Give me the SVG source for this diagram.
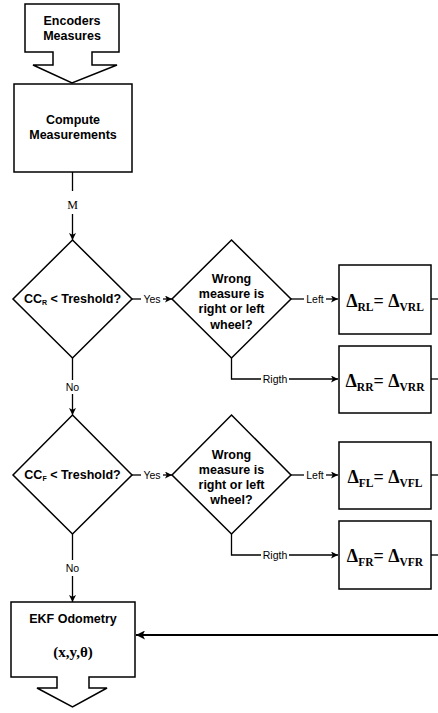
<svg xmlns="http://www.w3.org/2000/svg" width="438" height="713" viewBox="0 0 438 713">
  <style>
    .shape { fill: #fff; stroke: #000; stroke-width: 1.5; stroke-linejoin: miter; }
    .conn { fill: none; stroke: #000; stroke-width: 1.3; }
    .thick { fill: none; stroke: #000; stroke-width: 2; }
    .lbl { font-family: "Liberation Sans", Arial, sans-serif; font-weight: bold; font-size: 12.5px; text-anchor: middle; fill: #000; }
    .edge { font-family: "Liberation Sans", Arial, sans-serif; font-size: 10.5px; text-anchor: middle; fill: #000; }
    .math { font-family: "Liberation Serif", "Times New Roman", serif; font-weight: bold; font-size: 18px; text-anchor: middle; fill: #000; }
    .sub { font-size: 11.5px; }
  </style>
  <defs>
    <marker id="arrow" viewBox="0 0 10 10" refX="10" refY="5" markerWidth="7" markerHeight="7" markerUnits="userSpaceOnUse" orient="auto">
      <path d="M0,0 L10,5 L0,10 L2.5,5 Z" fill="#000"/>
    </marker>
    <marker id="arrowBig" viewBox="0 0 10 10" refX="10" refY="5" markerWidth="9" markerHeight="9" markerUnits="userSpaceOnUse" orient="auto">
      <path d="M0,0 L10,5 L0,10 L2.5,5 Z" fill="#000"/>
    </marker>
  </defs>

  <!-- input block arrow -->
  <g id="encoders">
    <path class="shape" d="M25,4 H119 V52 H92 V65 H117 L72,83 L33,65 H53 V52 H25 Z"/>
    <text class="lbl" x="72" y="25">Encoders</text>
    <text class="lbl" x="72" y="40">Measures</text>
  </g>

  <g id="compute">
    <rect class="shape" x="14" y="84" width="118" height="88"/>
    <text class="lbl" x="73" y="124">Compute</text>
    <text class="lbl" x="73" y="139">Measurements</text>
  </g>

  <g id="checkR">
    <path class="shape" d="M72.5,240 L132,299 L72.5,358 L13,299 Z"/>
    <text class="lbl" x="72.5" y="303">CC<tspan font-size="7" dy="2">R</tspan><tspan dy="-2"> &lt; Treshold?</tspan></text>
  </g>

  <g id="wheelR">
    <path class="shape" d="M231.5,240 L291,299 L231.5,358 L172,299 Z"/>
    <text class="lbl" x="231.5" y="283">Wrong</text>
    <text class="lbl" x="231.5" y="298">measure is</text>
    <text class="lbl" x="231.5" y="313">right or left</text>
    <text class="lbl" x="231.5" y="329">wheel?</text>
  </g>

  <g id="deltaRL">
    <rect class="shape" x="339" y="265" width="92" height="69"/>
    <text class="math" x="385" y="307">Δ<tspan class="sub" dy="4">RL</tspan><tspan dy="-4">= Δ</tspan><tspan class="sub" dy="4">VRL</tspan></text>
  </g>

  <g id="deltaRR">
    <rect class="shape" x="339" y="346" width="92" height="67"/>
    <text class="math" x="385" y="387">Δ<tspan class="sub" dy="4">RR</tspan><tspan dy="-4">= Δ</tspan><tspan class="sub" dy="4">VRR</tspan></text>
  </g>

  <g id="checkF">
    <path class="shape" d="M72.5,415 L132,475 L72.5,534 L13,475 Z"/>
    <text class="lbl" x="72.5" y="479">CC<tspan font-size="7" dy="2">F</tspan><tspan dy="-2"> &lt; Treshold?</tspan></text>
  </g>

  <g id="wheelF">
    <path class="shape" d="M231.5,415 L291,475 L231.5,534 L172,475 Z"/>
    <text class="lbl" x="231.5" y="459">Wrong</text>
    <text class="lbl" x="231.5" y="474">measure is</text>
    <text class="lbl" x="231.5" y="489">right or left</text>
    <text class="lbl" x="231.5" y="504">wheel?</text>
  </g>

  <g id="deltaFL">
    <rect class="shape" x="339" y="442" width="92" height="67"/>
    <text class="math" x="385" y="483">Δ<tspan class="sub" dy="4">FL</tspan><tspan dy="-4">= Δ</tspan><tspan class="sub" dy="4">VFL</tspan></text>
  </g>

  <g id="deltaFR">
    <rect class="shape" x="339" y="521" width="92" height="68"/>
    <text class="math" x="385" y="562">Δ<tspan class="sub" dy="4">FR</tspan><tspan dy="-4">= Δ</tspan><tspan class="sub" dy="4">VFR</tspan></text>
  </g>

  <g id="ekf">
    <path class="shape" d="M11,602 H135 V677 H89 V688 H107 L72.5,707 L37,688 H57 V677 H11 Z"/>
    <text class="lbl" x="73" y="623">EKF Odometry</text>
    <text x="73" y="657" font-family="'Liberation Serif', 'Times New Roman', serif" font-weight="bold" font-size="15" text-anchor="middle">(x,y,θ)</text>
  </g>

  <g id="connectors">
    <!-- M link -->
    <line class="conn" x1="72.5" y1="172" x2="72.5" y2="191"/>
    <text x="72.5" y="209" font-family="'Liberation Serif', 'Times New Roman', serif" font-size="12" text-anchor="middle">M</text>
    <line class="conn" x1="72.5" y1="214" x2="72.5" y2="240" marker-end="url(#arrow)"/>

    <!-- Yes (R) -->
    <line class="conn" x1="132" y1="299" x2="141" y2="299"/>
    <text class="edge" x="152" y="302.5">Yes</text>
    <line class="conn" x1="163" y1="299" x2="172" y2="299" marker-end="url(#arrow)"/>

    <!-- Left (R) -->
    <line class="conn" x1="291" y1="299" x2="304" y2="299"/>
    <text class="edge" x="315" y="302.5">Left</text>
    <line class="conn" x1="326" y1="299" x2="338" y2="299" marker-end="url(#arrow)"/>

    <!-- Rigth (R) -->
    <polyline class="conn" points="231.5,358 231.5,379 261,379"/>
    <text class="edge" x="275" y="382.5">Rigth</text>
    <line class="conn" x1="289" y1="379" x2="338" y2="379" marker-end="url(#arrow)"/>

    <!-- No (R) -->
    <line class="conn" x1="72.5" y1="358" x2="72.5" y2="380"/>
    <text class="edge" x="72.5" y="391">No</text>
    <line class="conn" x1="72.5" y1="394" x2="72.5" y2="415" marker-end="url(#arrow)"/>

    <!-- Yes (F) -->
    <line class="conn" x1="132" y1="475" x2="141" y2="475"/>
    <text class="edge" x="152" y="478.5">Yes</text>
    <line class="conn" x1="163" y1="475" x2="172" y2="475" marker-end="url(#arrow)"/>

    <!-- Left (F) -->
    <line class="conn" x1="291" y1="475" x2="304" y2="475"/>
    <text class="edge" x="315" y="478.5">Left</text>
    <line class="conn" x1="326" y1="475" x2="338" y2="475" marker-end="url(#arrow)"/>

    <!-- Rigth (F) -->
    <polyline class="conn" points="231.5,534 231.5,555 261,555"/>
    <text class="edge" x="275" y="558.5">Rigth</text>
    <line class="conn" x1="289" y1="555" x2="338" y2="555" marker-end="url(#arrow)"/>

    <!-- No (F) -->
    <line class="conn" x1="72.5" y1="534" x2="72.5" y2="560"/>
    <text class="edge" x="72.5" y="572">No</text>
    <line class="conn" x1="72.5" y1="576" x2="72.5" y2="602" marker-end="url(#arrow)"/>

    <!-- outputs of the correction boxes -->
    <line class="conn" x1="431" y1="299" x2="438" y2="299"/>
    <line class="conn" x1="431" y1="379" x2="438" y2="379"/>
    <line class="conn" x1="431" y1="475" x2="438" y2="475"/>
    <line class="conn" x1="431" y1="555" x2="438" y2="555"/>

    <!-- return into EKF -->
    <line class="thick" x1="438" y1="635" x2="136" y2="635" marker-end="url(#arrowBig)"/>
  </g>
</svg>
